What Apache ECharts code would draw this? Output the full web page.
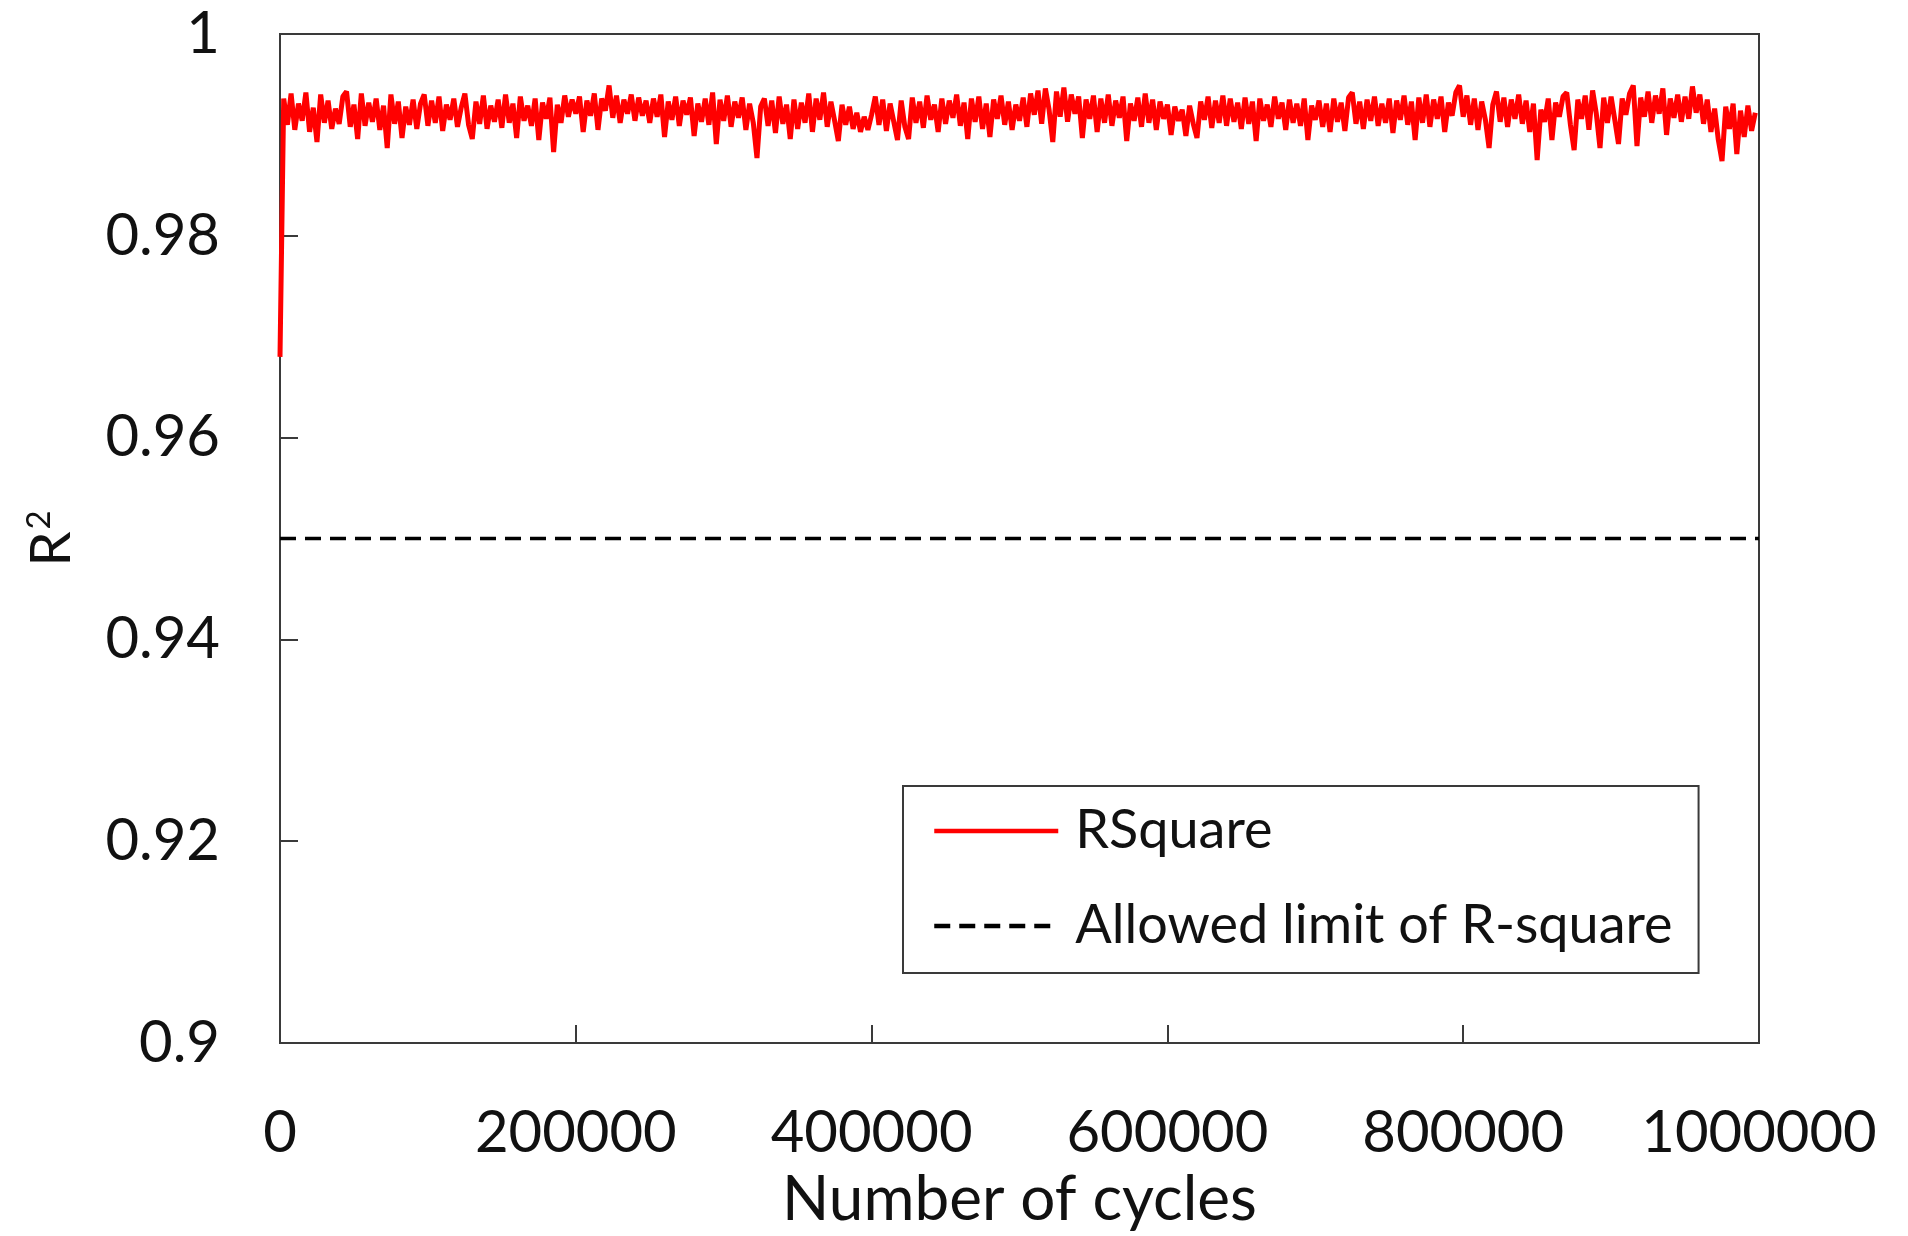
<!DOCTYPE html>
<html>
<head>
<meta charset="utf-8">
<script src="https://cdn.jsdelivr.net/npm/echarts@6/dist/echarts.min.js"></script>
<style>
  html, body { margin: 0; padding: 0; background: #fff; }
  #chart { width: 1908px; height: 1236px; }
</style>
</head>
<body>
<div id="chart"></div>
<script>
// R-square of the fit, sampled every STEP cycles starting at cycle 0
const STEP = 2500;
const rSquare = [
  0.9680, 0.9936, 0.9910, 0.9941, 0.9905, 0.9931, 0.9914, 0.9942, 0.9903, 0.9927, 0.9893, 0.9940, 0.9912, 0.9934, 0.9906, 0.9926, 0.9911, 0.9938, 0.9943, 0.9908,
  0.9930, 0.9896, 0.9941, 0.9909, 0.9932, 0.9913, 0.9936, 0.9905, 0.9929, 0.9887, 0.9940, 0.9911, 0.9933, 0.9897, 0.9928, 0.9910, 0.9935, 0.9906, 0.9931, 0.9940,
  0.9909, 0.9934, 0.9912, 0.9938, 0.9904, 0.9930, 0.9915, 0.9936, 0.9908, 0.9927, 0.9941, 0.9910, 0.9896, 0.9933, 0.9911, 0.9939, 0.9906, 0.9929, 0.9913, 0.9935,
  0.9907, 0.9940, 0.9912, 0.9931, 0.9897, 0.9938, 0.9914, 0.9929, 0.9909, 0.9936, 0.9895, 0.9932, 0.9916, 0.9937, 0.9883, 0.9930, 0.9912, 0.9939, 0.9918, 0.9935,
  0.9921, 0.9938, 0.9903, 0.9934, 0.9919, 0.9941, 0.9905, 0.9936, 0.9924, 0.9949, 0.9917, 0.9939, 0.9912, 0.9935, 0.9921, 0.9940, 0.9914, 0.9937, 0.9919, 0.9934,
  0.9912, 0.9936, 0.9918, 0.9940, 0.9898, 0.9933, 0.9915, 0.9938, 0.9909, 0.9934, 0.9920, 0.9937, 0.9899, 0.9931, 0.9913, 0.9936, 0.9910, 0.9942, 0.9891, 0.9935,
  0.9914, 0.9939, 0.9908, 0.9933, 0.9917, 0.9937, 0.9905, 0.9931, 0.9912, 0.9877, 0.9928, 0.9936, 0.9909, 0.9934, 0.9902, 0.9938, 0.9911, 0.9930, 0.9896, 0.9935,
  0.9906, 0.9932, 0.9912, 0.9941, 0.9903, 0.9936, 0.9915, 0.9942, 0.9908, 0.9933, 0.9914, 0.9894, 0.9930, 0.9910, 0.9928, 0.9906, 0.9922, 0.9903, 0.9918, 0.9905,
  0.9920, 0.9938, 0.9910, 0.9935, 0.9904, 0.9931, 0.9913, 0.9895, 0.9934, 0.9908, 0.9896, 0.9937, 0.9912, 0.9933, 0.9907, 0.9939, 0.9915, 0.9930, 0.9903, 0.9936,
  0.9911, 0.9934, 0.9917, 0.9940, 0.9909, 0.9932, 0.9896, 0.9936, 0.9913, 0.9938, 0.9906, 0.9931, 0.9898, 0.9935, 0.9916, 0.9939, 0.9910, 0.9933, 0.9905, 0.9930,
  0.9914, 0.9937, 0.9908, 0.9941, 0.9920, 0.9944, 0.9911, 0.9946, 0.9925, 0.9893, 0.9943, 0.9918, 0.9947, 0.9913, 0.9940, 0.9921, 0.9938, 0.9897, 0.9935, 0.9916,
  0.9939, 0.9903, 0.9936, 0.9912, 0.9940, 0.9909, 0.9934, 0.9917, 0.9938, 0.9894, 0.9931, 0.9914, 0.9937, 0.9908, 0.9941, 0.9912, 0.9935, 0.9905, 0.9933, 0.9916,
  0.9930, 0.9900, 0.9928, 0.9914, 0.9925, 0.9899, 0.9929, 0.9911, 0.9897, 0.9933, 0.9915, 0.9938, 0.9907, 0.9934, 0.9912, 0.9939, 0.9909, 0.9936, 0.9913, 0.9932,
  0.9906, 0.9937, 0.9911, 0.9933, 0.9894, 0.9936, 0.9914, 0.9930, 0.9908, 0.9938, 0.9916, 0.9932, 0.9905, 0.9935, 0.9912, 0.9931, 0.9909, 0.9936, 0.9895, 0.9929,
  0.9915, 0.9934, 0.9908, 0.9931, 0.9903, 0.9936, 0.9913, 0.9932, 0.9904, 0.9937, 0.9942, 0.9911, 0.9933, 0.9906, 0.9935, 0.9914, 0.9938, 0.9909, 0.9931, 0.9912,
  0.9936, 0.9902, 0.9934, 0.9915, 0.9939, 0.9910, 0.9933, 0.9895, 0.9937, 0.9912, 0.9940, 0.9908, 0.9935, 0.9916, 0.9938, 0.9903, 0.9932, 0.9919, 0.9942, 0.9949,
  0.9918, 0.9939, 0.9910, 0.9936, 0.9905, 0.9933, 0.9915, 0.9887, 0.9930, 0.9943, 0.9913, 0.9937, 0.9908, 0.9935, 0.9916, 0.9940, 0.9911, 0.9934, 0.9903, 0.9931,
  0.9875, 0.9925, 0.9913, 0.9936, 0.9895, 0.9932, 0.9918, 0.9938, 0.9942, 0.9910, 0.9885, 0.9935, 0.9916, 0.9939, 0.9905, 0.9944, 0.9921, 0.9887, 0.9937, 0.9912,
  0.9938, 0.9915, 0.9891, 0.9936, 0.9920, 0.9941, 0.9949, 0.9889, 0.9937, 0.9918, 0.9943, 0.9912, 0.9939, 0.9921, 0.9946, 0.9900, 0.9936, 0.9917, 0.9940, 0.9913,
  0.9938, 0.9916, 0.9948, 0.9922, 0.9940, 0.9911, 0.9935, 0.9903, 0.9926, 0.9895, 0.9874, 0.9928, 0.9906, 0.9931, 0.9881, 0.9924, 0.9898, 0.9929, 0.9904, 0.9922
];

// Allowed limit of R-square, drawn across the whole cycle range
const limitCycles = [0, 1000000];
const limitValues = [0.95, 0.95];

// Axis ranges and tick steps
const xMin = 0, xMax = 1000000, xStep = 200000;
const yMin = 0.9, yMax = 1, yStep = 0.02;

const seriesNames = ['RSquare', 'Allowed limit of R-square'];

const rSquarePoints = rSquare.map((v, i) => [i * STEP, v]);
const limitPoints = limitCycles.map((c, i) => [c, limitValues[i]]);

const FONT = 'Lato';
const INK = '#111111';
const AXIS = '#3a3a3a';

const chart = echarts.init(document.getElementById('chart'), null, { renderer: 'canvas' });

chart.setOption({
  animation: false,
  backgroundColor: '#ffffff',
  textStyle: { fontFamily: FONT, color: INK },
  grid: {
    left: 280, right: 149, top: 34, bottom: 193,
    show: true, borderColor: AXIS, borderWidth: 2, backgroundColor: 'transparent'
  },
  xAxis: {
    type: 'value',
    min: xMin, max: xMax, interval: xStep,
    name: 'Number of cycles',
    nameLocation: 'middle',
    nameGap: 126,
    nameTextStyle: { fontFamily: FONT, fontSize: 62, color: INK },
    axisLine: { show: true, lineStyle: { color: AXIS, width: 2 } },
    axisTick: { show: true, inside: true, length: 18, lineStyle: { color: AXIS, width: 2 } },
    axisLabel: { fontFamily: FONT, fontSize: 58, color: INK, margin: 61, formatter: v => String(v) },
    splitLine: { show: false }
  },
  yAxis: {
    type: 'value',
    min: yMin, max: yMax, interval: yStep,
    name: '{r|R}{s|2}',
    nameLocation: 'middle',
    nameGap: 200,
    nameRotate: 90,
    nameTextStyle: {
      rich: {
        r: { fontFamily: FONT, fontSize: 56, color: INK },
        s: { fontFamily: FONT, fontSize: 33, color: INK, verticalAlign: 'top', padding: [0, 0, 24, 2] }
      }
    },
    axisLine: { show: true, lineStyle: { color: AXIS, width: 2 } },
    axisTick: { show: true, inside: true, length: 18, lineStyle: { color: AXIS, width: 2 } },
    axisLabel: {
      fontFamily: FONT, fontSize: 58, color: INK, margin: 60,
      formatter: v => String(parseFloat(v.toFixed(2)))
    },
    splitLine: { show: false }
  },
  legend: {
    orient: 'vertical',
    left: 903, top: 786,
    padding: [18, 26, 20, 29],
    itemWidth: 124, itemHeight: 40,
    itemGap: 41,
    borderColor: AXIS, borderWidth: 2,
    backgroundColor: '#ffffff',
    itemStyle: { opacity: 0 },
    lineStyle: { width: 4.5 },
    textStyle: { fontFamily: FONT, fontSize: 54, color: INK, padding: [0, 0, 0, 12] },
    data: seriesNames
  },
  series: [
    {
      name: seriesNames[0],
      type: 'line',
      data: rSquarePoints,
      symbol: 'none',
      smooth: false,
      lineStyle: { color: '#ff0000', width: 5 },
      itemStyle: { color: '#ff0000' },
      z: 3
    },
    {
      name: seriesNames[1],
      type: 'line',
      data: limitPoints,
      symbol: 'none',
      lineStyle: { color: '#000000', width: 3.5, type: [16, 9] },
      itemStyle: { color: '#000000' },
      z: 2
    }
  ]
});
</script>
</body>
</html>
